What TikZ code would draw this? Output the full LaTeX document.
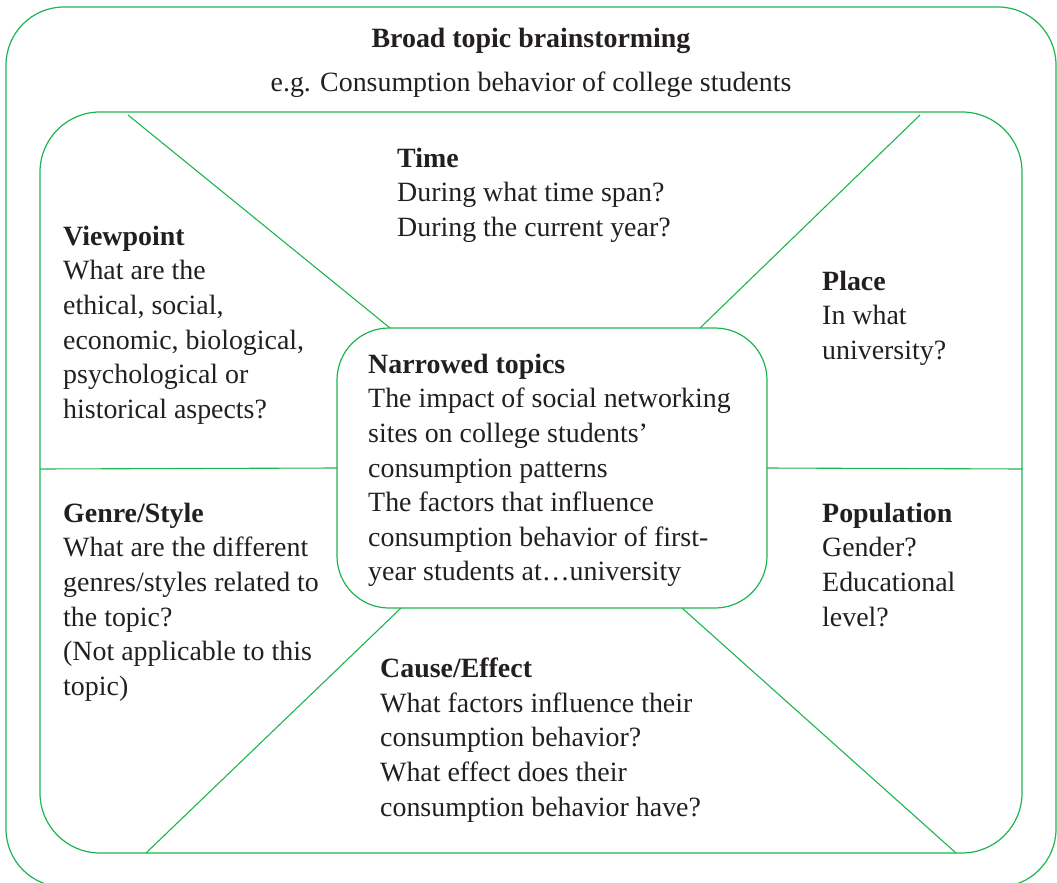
\documentclass[tikz,border=0pt]{standalone}
\usepackage{fontspec}
\setmainfont{Liberation Serif}
\usetikzlibrary{positioning,calc}
\definecolor{mapgreen}{RGB}{30,180,80}
\definecolor{inkgray}{RGB}{35,31,32}

\begin{document}
\begin{tikzpicture}[
  x=1pt, y=-1pt,
  font=\fontsize{27.9}{34.6}\selectfont,
  frame/.style={draw=mapgreen, line width=1.2pt, anchor=north west, inner sep=0pt, outer sep=0pt},
  spoke/.style={draw=mapgreen, line width=1.1pt},
  facet/.style={anchor=north west, yshift=18.2pt, align=left, inner sep=0pt, text=inkgray,
    execute at begin node=\strut},
  heading/.style={anchor=base, inner sep=0pt, text=inkgray}
]
\useasboundingbox (0,0) rectangle (1057,883);

% Frames
\node[frame, rounded corners=58pt, minimum width=1050pt, minimum height=880pt] (outer) at (6,7) {};
\node[frame, rounded corners=60pt, minimum width=982pt, minimum height=741pt] (inner) at (40,112) {};
\node[frame, rounded corners=52pt, minimum width=430pt, minimum height=280pt] (narrow) at (337,328) {};

% Title
\node[heading, font=\fontsize{27.9}{34.6}\selectfont\bfseries] (title) at (531,48) {Broad topic brainstorming};
\node[heading] (example) at (531,91) {e.g. Consumption behavior of college students};

% Spoke end points
\coordinate (tl) at (128,115);
\coordinate (tr) at (920,115);
\coordinate (bl) at (146,853);
\coordinate (br) at (956,853);
\coordinate (ml) at (40,469);
\coordinate (mr) at (1022,469);
\coordinate (ntl) at (390,328);
\coordinate (ntr) at (700,328);
\coordinate (nbl) at (401,608);
\coordinate (nbr) at (682,608);

% Spokes
\draw[spoke] (tl) -- (ntl);
\draw[spoke] (tr) -- (ntr);
\draw[spoke] (bl) -- (nbl);
\draw[spoke] (br) -- (nbr);
\draw[spoke] (ml) -- (narrow.west);
\draw[spoke] (narrow.east) -- (mr);

% Facets
\node[facet] (time) at (397,166) {\textbf{Time}\\During what time span?\\During the current year?};
\node[facet] (view) at (63,244) {\textbf{Viewpoint}\\What are the\\ethical, social,\\economic, biological,\\psychological or\\historical aspects?};
\node[facet] (place) at (822,289) {\textbf{Place}\\In what\\university?};
\node[facet] (topics) at (368,372) {\textbf{Narrowed topics}\\The impact of social networking\\sites on college students’\\consumption patterns\\The factors that influence\\consumption behavior of first-\\year students at…university};
\node[facet] (genre) at (63,521) {\textbf{Genre/Style}\\What are the different\\genres/styles related to\\the topic?\\(Not applicable to this\\topic)};
\node[facet] (pop) at (822,521) {\textbf{Population}\\Gender?\\Educational\\level?};
\node[facet] (cause) at (380,676) {\textbf{Cause/Effect}\\What factors influence their\\consumption behavior?\\What effect does their\\consumption behavior have?};
\end{tikzpicture}
\end{document}
